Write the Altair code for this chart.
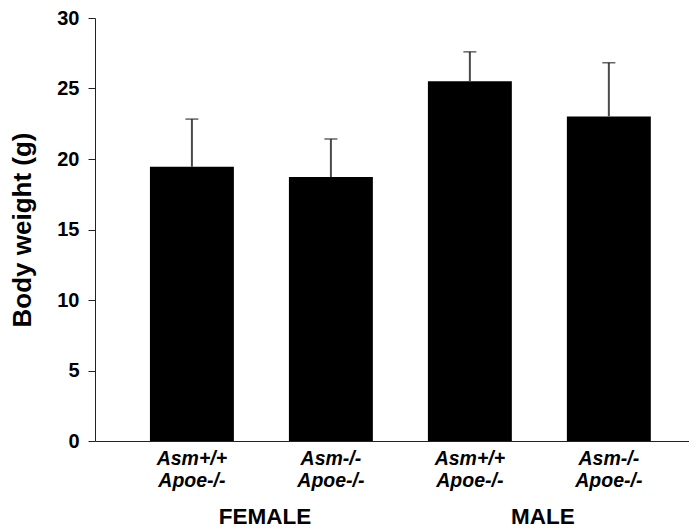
import altair as alt
import pandas as pd

line1 = ["Asm+/+", "Asm-/-", "Asm+/+", "Asm-/-"]
line2 = ["Apoe-/-", "Apoe-/-", "Apoe-/-", "Apoe-/-"]
sex = ["FEMALE", "FEMALE", "MALE", "MALE"]
weight = [19.45, 18.72, 25.52, 23.02]
upper = [22.83, 21.42, 27.6, 26.82]

groups = ["FEMALE", "MALE"]

keys = [f"{a}|{b}|{s}" for a, b, s in zip(line1, line2, sex)]
df = pd.DataFrame({"key": keys, "weight": weight, "upper": upper})
gdf = pd.DataFrame({"group": groups, "first": [keys[sex.index(g)] for g in groups]})

FONT = "Liberation Sans"
W, H = 594, 423

xscale = alt.Scale(domain=keys, paddingInner=0.396, paddingOuter=0.335, align=0.59)
x = alt.X("key:N", scale=xscale, sort=keys, title=None,
          axis=alt.Axis(labelAngle=0, ticks=False, labelExpr="slice(split(datum.label, '|'), 0, 2)",
                        labelFont=FONT, labelFontSize=19.5, labelFontWeight="bold", labelFontStyle="italic",
                        labelColor="black", labelLineHeight=22.5, labelPadding=8,
                        domainColor="#222", domainWidth=1))
y = alt.Y("weight:Q", scale=alt.Scale(domain=[0, 30], nice=False), title="Body weight (g)",
          axis=alt.Axis(values=[0, 5, 10, 15, 20, 25, 30], grid=False, tickSize=7, tickColor="#222",
                        domainColor="#222", labelFont=FONT, labelFontSize=20, labelFontWeight="bold",
                        labelColor="black", labelPadding=9, titleFont=FONT, titleFontSize=26,
                        titleFontWeight="bold", titleColor="black", titlePadding=21))

base = alt.Chart(df)
bars = base.mark_bar(color="black").encode(x=x, y=y)
err = base.mark_rule(color="#4a4a4a", strokeWidth=2).encode(x=alt.X("key:N", sort=keys), y="weight:Q", y2="upper:Q")
cap = base.mark_tick(color="#222", thickness=1.5, size=13, orient="horizontal").encode(
    x=alt.X("key:N", sort=keys), y=alt.Y("upper:Q"))
glabels = alt.Chart(gdf).mark_text(font=FONT, fontSize=22.5, fontWeight="bold", color="black",
                                  baseline="alphabetic", dx=73).encode(
    x=alt.X("first:N", sort=keys), y=alt.value(H + 83), text="group:N")

chart = alt.layer(bars, err, cap, glabels).properties(
    width=W, height=H,
    autosize=alt.AutoSizeParams(type="none"),
    padding={"left": 87, "top": 10, "right": 0, "bottom": 90},
).configure_view(stroke=None)

chart.save("out.html", embed_options={"renderer": "svg", "actions": False})
